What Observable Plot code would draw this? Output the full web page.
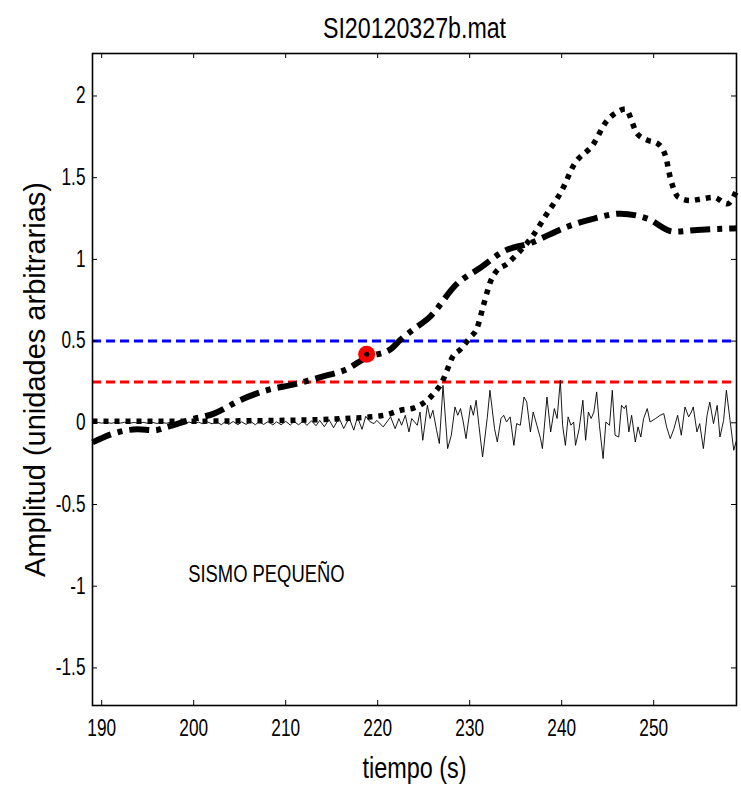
<!DOCTYPE html>
<html>
<head>
<meta charset="utf-8">
<script src="https://cdn.jsdelivr.net/npm/d3@7"></script>
<script src="https://cdn.jsdelivr.net/npm/@observablehq/plot@0.6"></script>
<style>
  body { margin: 0; background: white; }
</style>
</head>
<body>
<div id="chart"></div>
<script>
// ---- Data ----
const title = "SI20120327b.mat";
const xLabel = "tiempo (s)";
const yLabel = "Amplitud (unidades arbitrarias)";
const note = "SISMO PEQUEÑO";
const noteX = 207.9, noteY = -0.93;

const xTicks = [190, 200, 210, 220, 230, 240, 250];
const yTicks = [-1.5, -1, -0.5, 0, 0.5, 1, 1.5, 2];

const blueLevel = 0.5;
const redLevel = 0.25;

// thin seismic trace
const sigT = [189,189.5,190,190.5,191,191.5,192,192.5,193,193.5,194,194.5,195,195.5,196,196.5,197,197.5,198,198.5,199,199.5,200,200.5,201,201.5,202,202.5,203,203.4,203.8,204.3,204.8,205.2,205.7,206.2,206.7,207.1,207.6,208.1,208.6,209,209.5,210,210.5,210.9,211.4,211.9,212.3,212.8,213.3,213.7,214.2,214.7,215.2,215.8,216.3,216.9,217.4,217.8,218.3,218.7,
  219.2,219.6,219.9,220.6,221.4,221.9,222.3,222.6,223.0,223.4,223.7,224.3,224.6,224.9,225.4,225.7,226.0,226.4,226.7,227.1,227.6,228.0,228.4,228.7,229.0,229.3,229.6,230.1,230.4,230.7,231.0,231.4,231.9,232.2,232.7,233.0,233.4,233.7,234.0,234.4,234.8,235.1,235.5,235.9,236.2,236.6,236.9,237.3,237.7,237.9,238.4,238.8,239.2,239.5,
  239.85,240.1,240.4,240.7,241.0,241.3,241.5,241.9,242.3,242.6,242.9,243.2,243.5,243.8,244.1,244.5,244.8,245.2,245.5,245.8,246.2,246.5,246.8,247.0,247.3,247.6,248.0,248.3,248.6,248.9,249.3,249.6,250.2,250.7,251.1,251.4,251.8,252.2,252.6,253.0,253.4,253.8,254.1,254.3,254.7,255.0,255.4,255.8,256.1,256.5,256.9,257.2,257.6,257.9,258.3,258.7,259.0];
const sigV = [0,0.003,-0.002,0.003,-0.003,0.002,-0.002,0.003,-0.003,0.002,-0.002,0.003,-0.003,0.003,-0.004,0.004,-0.003,0.004,-0.005,0.004,-0.004,0.005,-0.005,0.004,-0.006,0.005,-0.006,0.006,-0.012,0.006,-0.01,0.008,-0.012,0.006,-0.01,0.008,-0.012,0.007,-0.01,0.008,-0.013,0.006,-0.012,0.009,-0.014,0.008,-0.012,0.01,-0.016,0.012,-0.018,0.015,-0.024,0.02,-0.03,0.03,-0.035,0.03,-0.045,0.035,-0.04,0.04,
  0.005,-0.005,0.015,-0.025,0.036,-0.036,0.026,-0.015,0.046,-0.056,0.026,-0.015,0.066,-0.107,0.107,0.026,0.077,-0.046,-0.127,0.229,-0.158,-0.076,0.097,0.046,0.087,0.005,-0.097,0.107,0.046,0.138,-0.015,-0.209,0.026,0.199,-0.036,-0.117,0.026,0.046,0.005,0.036,-0.138,-0.005,-0.015,0.158,0.127,-0.056,0.066,-0.015,-0.097,-0.158,0.158,-0.056,0.087,0.026,
  0.26,-0.015,-0.138,0.036,-0.015,0.005,-0.138,-0.036,0.138,-0.107,0.066,0.026,0.066,0.189,-0.015,-0.219,0.005,-0.015,0.199,-0.076,-0.087,0.107,0.087,0.107,-0.056,0.046,-0.117,-0.025,-0.087,0.026,0.087,0.005,0.026,0.046,0.056,-0.025,-0.097,-0.036,0.046,-0.076,0.097,0.036,0.066,0.097,-0.056,-0.005,-0.158,0.046,0.127,-0.005,0.107,-0.087,0.015,0.199,0.015,-0.168,-0.107];

// thick dotted curve
const dotT = [189,195,200,205,210,214,217,219,221,222.5,223.9,225.2,226.1,227,227.6,228.1,229,230,230.8,231.5,232.3,232.8,234.1,235.2,236.8,238.4,240,241.3,243.5,244.8,246,246.9,248.2,249.3,250.4,251.3,251.8,252.7,254,255.2,256.5,258,259];
const dotV = [0.01,0.01,0.01,0.012,0.015,0.02,0.028,0.035,0.05,0.077,0.09,0.13,0.18,0.25,0.33,0.40,0.45,0.52,0.58,0.72,0.87,0.92,0.975,1.035,1.14,1.28,1.42,1.576,1.71,1.84,1.9,1.92,1.77,1.73,1.71,1.63,1.50,1.38,1.36,1.37,1.38,1.34,1.42];

// thick dash-dot curve
const ddT = [189,191.3,193.9,195.7,197.1,199.7,202.2,205.1,208,210.9,213.8,216.7,218.8,221.4,222.5,223.6,225.7,228.6,231.2,233.7,236.6,240.6,243.5,246.4,249.3,252.2,254.7,259];
const ddV = [-0.12,-0.065,-0.04,-0.046,-0.026,0.02,0.056,0.14,0.2,0.235,0.28,0.33,0.40,0.45,0.51,0.56,0.65,0.85,0.95,1.05,1.10,1.20,1.25,1.28,1.25,1.17,1.18,1.19];

// red marker
const markT = [218.8];
const markV = [0.42];

// ---- Build tables ----
const signal = sigT.map((t, i) => ({t, v: sigV[i]}));
const dotted = dotT.map((t, i) => ({t, v: dotV[i]}));
const dashdot = ddT.map((t, i) => ({t, v: ddV[i]}));
const marker = markT.map((t, i) => ({t, v: markV[i]}));

const sans = '"Liberation Sans", Arial, sans-serif';

const W = 741, H = 785, mL = 92, mR = 5, mT = 53, mB = 80;
const fw = W - mL - mR, fh = H - mT - mB, tl = 5;

const chart = Plot.plot({
  width: W, height: H,
  marginLeft: mL, marginRight: mR, marginTop: mT, marginBottom: mB,
  style: {fontFamily: sans, fontSize: "23px", background: "white", color: "black"},
  x: {domain: [189, 259]},
  y: {domain: [-1.73, 2.26]},
  marks: [
    Plot.ruleY([redLevel], {stroke: "#ff0000", strokeWidth: 3, strokeDasharray: "9,5"}),
    Plot.ruleY([blueLevel], {stroke: "#0000ff", strokeWidth: 3, strokeDasharray: "9,5"}),
    Plot.line(signal, {x: "t", y: "v", stroke: "black", strokeWidth: 0.9}),
    Plot.line(dotted, {x: "t", y: "v", stroke: "black", strokeWidth: 5.5, strokeDasharray: "5,6", strokeLinecap: "butt", strokeLinejoin: "miter", curve: "monotone-x"}),
    Plot.line(dashdot, {x: "t", y: "v", stroke: "black", strokeWidth: 6, strokeDasharray: "20,7,5,7", strokeLinecap: "butt", strokeLinejoin: "miter", curve: "monotone-x"}),
    Plot.dot(marker, {x: "t", y: "v", r: 8.5, fill: "#ff0000", stroke: null}),
    Plot.dot(marker, {x: "t", y: "v", r: 2.5, fill: "black", stroke: null}),
    Plot.frame({stroke: "black", strokeWidth: 1.6}),
    Plot.tickY(yTicks, {insetRight: fw - tl, stroke: "black", strokeWidth: 1}),
    Plot.tickY(yTicks, {insetLeft: fw - tl, stroke: "black", strokeWidth: 1}),
    Plot.tickX(xTicks, {insetBottom: fh - tl, stroke: "black", strokeWidth: 1}),
    Plot.tickX(xTicks, {insetTop: fh - tl, stroke: "black", strokeWidth: 1}),
    Plot.axisY({ticks: yTicks, tickSize: 0, tickPadding: 7, tickFormat: d => String(d), label: null, fontSize: 23}),
    Plot.axisX({ticks: xTicks, tickSize: 0, tickPadding: 14, tickFormat: d => String(d), label: null, fontSize: 23}),
    Plot.text([title], {frameAnchor: "top", dy: -25, fontSize: 29, lineAnchor: "middle", textAnchor: "middle"}),
    Plot.text([xLabel], {frameAnchor: "bottom", dy: 63, fontSize: 30, lineAnchor: "middle", textAnchor: "middle"}),
    Plot.text([yLabel], {frameAnchor: "left", dx: -57, rotate: -90, fontSize: 29, lineAnchor: "middle", textAnchor: "middle"}),
    Plot.text([{t: noteX, v: noteY, s: note}], {x: "t", y: "v", text: "s", fontSize: 23, lineAnchor: "middle", textAnchor: "middle"})
  ]
});

document.getElementById("chart").appendChild(chart);

// Condense horizontal texts around their anchor (the reference uses a narrow face)
const squeeze = new Map([[title, 0.8], [xLabel, 0.78], [note, 0.8], [yLabel, 1]]);
const SVGNS = "http://www.w3.org/2000/svg";
Array.from(chart.querySelectorAll("text")).forEach(t => {
  const s = squeeze.has(t.textContent) ? squeeze.get(t.textContent) : 0.75;
  if (s === 1) return;
  const r = t.getBoundingClientRect();
  const ta = getComputedStyle(t).textAnchor;
  const ax = ta === "end" ? r.right : ta === "middle" ? (r.left + r.right) / 2 : r.left;
  const parent = t.parentNode;
  const inv = parent.getScreenCTM().inverse();
  const pt = chart.createSVGPoint();
  pt.x = ax; pt.y = r.top;
  const q = pt.matrixTransform(inv);
  const g = document.createElementNS(SVGNS, "g");
  g.setAttribute("transform", `translate(${q.x},0) scale(${s},1) translate(${-q.x},0)`);
  parent.insertBefore(g, t);
  g.appendChild(t);
});
</script>
</body>
</html>
